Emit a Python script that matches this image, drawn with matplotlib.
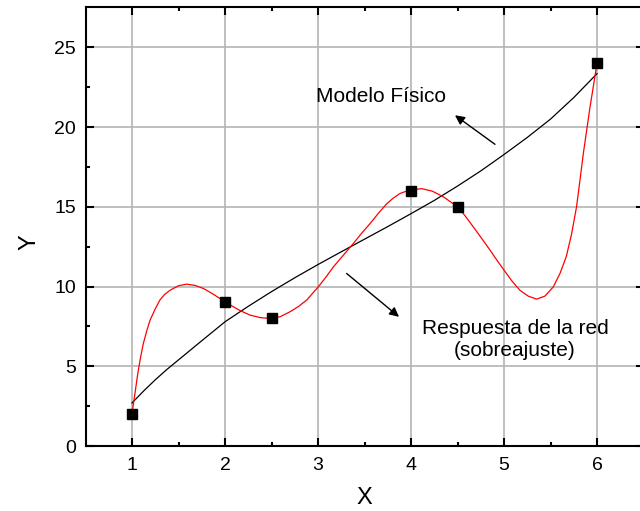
import matplotlib
matplotlib.use("Agg")
import matplotlib.pyplot as plt

plt.rcParams['font.family'] = ['Liberation Sans', 'DejaVu Sans']

# Data points
pts_x = [1, 2, 2.5, 4, 4.5, 6]
pts_y = [2, 9, 8, 16, 15, 24]

# Physical model curve
model_x = [1.0, 1.125, 1.25, 1.375, 1.5, 1.75, 2.0, 2.25, 2.5, 2.75, 3.0, 3.25, 3.5, 3.75,
           4.0, 4.25, 4.5, 4.75, 5.0, 5.25, 5.5, 5.75, 6.0]
model_y = [2.7, 3.45, 4.15, 4.8, 5.4, 6.6, 7.79, 8.76, 9.68, 10.55, 11.38, 12.18, 12.97, 13.76,
           14.57, 15.4, 16.3, 17.25, 18.28, 19.35, 20.5, 21.85, 23.35]

# Network response (overfitting) curve
net_x = [1.0, 1.016, 1.032, 1.05, 1.068, 1.095, 1.122, 1.16, 1.194, 1.25, 1.30,
         1.35, 1.41, 1.5, 1.588, 1.68, 1.767, 1.86, 1.946, 2.0, 2.054, 2.16,
         2.269, 2.38, 2.484, 2.59, 2.70, 2.79, 2.878, 3.003, 3.08, 3.165, 3.27,
         3.38, 3.47, 3.56, 3.65, 3.74, 3.81, 3.88, 3.94, 4.0, 4.06, 4.115, 4.23,
         4.35, 4.5, 4.58, 4.67, 4.76, 4.85, 4.93, 5.0, 5.085, 5.17, 5.26, 5.35,
         5.44, 5.53, 5.602, 5.67, 5.728, 5.78, 5.817, 5.853, 5.889, 5.925,
         5.962, 6.0]
net_y = [2.0, 2.68, 3.30, 4.05, 4.76, 5.65, 6.43, 7.25, 7.89, 8.6, 9.15,
         9.5, 9.77, 10.05, 10.15, 10.07, 9.88, 9.57, 9.25, 9.0, 8.85, 8.5,
         8.21, 8.05, 8.0, 8.1, 8.42, 8.75, 9.15, 9.98, 10.55, 11.23, 11.95,
         12.70, 13.35, 13.95, 14.6, 15.2, 15.55, 15.83, 15.96, 16.0, 16.1, 16.14, 15.98,
         15.62, 15.0, 14.45, 13.74, 13.02, 12.28, 11.6, 11.03, 10.35, 9.77, 9.4, 9.21,
         9.4, 9.98, 10.82, 11.88, 13.33, 15.0, 16.67, 18.34, 19.8, 21.26,
         22.6, 24.0]

xticks = [1, 2, 3, 4, 5, 6]
yticks = [0, 5, 10, 15, 20, 25]

fig = plt.figure(figsize=(6.4, 5.11), dpi=100)
ax = fig.add_axes([85.5 / 640, 65 / 511, 558 / 640, 438.5 / 511])

ax.grid(True, which='major', color='#b4b4b4', lw=1.2, zorder=0)
ax.set_axisbelow(True)

ax.plot(model_x, model_y, color='black', lw=0.9, zorder=3)
ax.plot(net_x, net_y, color='#ff0000', lw=0.9, zorder=3)
ax.plot(pts_x, pts_y, ls='none', marker='s', color='black', markersize=7, zorder=4)

ax.set_xlim(0.5, 6.5)
ax.set_ylim(0, 27.5)
ax.set_xticks(xticks)
ax.set_yticks(yticks)
ax.set_xticks([1.5, 2.5, 3.5, 4.5, 5.5], minor=True)
ax.set_yticks([2.5, 7.5, 12.5, 17.5, 22.5], minor=True)

for s in ax.spines.values():
    s.set_linewidth(1.5)

ax.tick_params(which='both', direction='in', top=True, right=True, width=1.5)
ax.tick_params(which='major', length=6, labelsize=14)
ax.tick_params(which='minor', length=3)
ax.tick_params(axis='x', pad=8)
ax.tick_params(axis='y', pad=7)

ax.set_xlabel('X', fontsize=17, va='center', ha='center')
ax.set_ylabel('Y', fontsize=17, va='center', ha='center')
ax.xaxis.set_label_coords(0.5, -0.1186)
ax.yaxis.set_label_coords(-0.0995, 0.466)

ax.text(2.978, 21.89, 'Modelo Físico', fontsize=15, ha='left', va='center')
ax.text(5.118, 6.70, 'Respuesta de la red\n(sobreajuste)', fontsize=15,
        ha='center', va='center', linespacing=1.2)

ax.annotate('', xy=(4.473, 20.74), xytext=(4.903, 18.92),
            arrowprops=dict(arrowstyle='-|>', color='black', lw=1.0,
                            mutation_scale=14, shrinkA=0, shrinkB=0))
ax.annotate('', xy=(3.871, 8.10), xytext=(3.308, 10.82),
            arrowprops=dict(arrowstyle='-|>', color='black', lw=1.0,
                            mutation_scale=14, shrinkA=0, shrinkB=0))

fig.savefig('out.png', dpi=100)
